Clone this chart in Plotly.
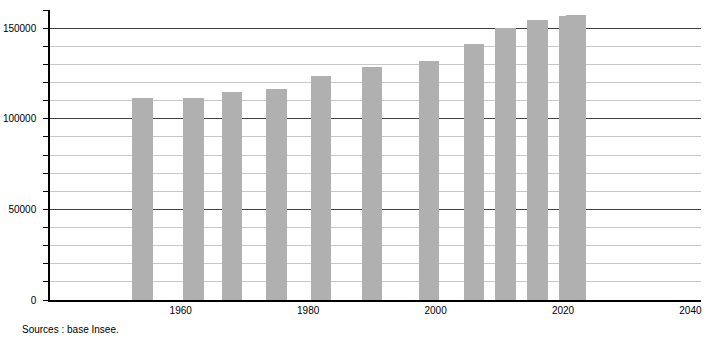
import plotly.graph_objects as go

years = [1954, 1962, 1968, 1975, 1982, 1990, 1999, 2006, 2011, 2016, 2021, 2022]
population = [111300, 111300, 114600, 116300, 123500, 128500, 131800, 141300, 150200, 154600, 156700, 157400]
x_ticks = [1960, 1980, 2000, 2020, 2040]
y_ticks = [0, 50000, 100000, 150000]
source_text = "Sources : base Insee."

fig = go.Figure()
fig.add_trace(go.Bar(
    x=years, y=population, width=3.2,
    marker=dict(color="#b0b0b0", line=dict(width=0)),
    hoverinfo="x+y",
))

fig.update_layout(
    width=710, height=340,
    margin=dict(l=50, r=9, t=10, b=40, autoexpand=False),
    paper_bgcolor="white", plot_bgcolor="white",
    showlegend=False,
    font=dict(family="Liberation Sans, Arial, sans-serif", size=10, color="#000"),
    bargap=0,
    xaxis=dict(
        range=[1939.48, 2041.66],
        tickvals=x_ticks, ticktext=[str(v) for v in x_ticks],
        showgrid=False, zeroline=False, automargin=False,
        showline=True, linecolor="#000", linewidth=1.5,
        ticks="", tickfont=dict(size=10),
    ),
    yaxis=dict(
        range=[0, 160000],
        tickvals=y_ticks, ticktext=[str(v) for v in y_ticks],
        showgrid=True, gridcolor="#404040", gridwidth=1,
        zeroline=False, automargin=False,
        showline=True, linecolor="#000", linewidth=1.5,
        ticks="outside", ticklen=5, tickcolor="#000",
        ticklabelstandoff=5,
        minor=dict(dtick=10000, showgrid=True, gridcolor="#c8c8c8", gridwidth=1,
                   ticks="outside", ticklen=5, tickcolor="#000"),
        tickfont=dict(size=10),
    ),
)

fig.add_annotation(
    text=source_text, xref="paper", yref="paper",
    x=-0.046, y=-0.1, xanchor="left", yanchor="middle",
    showarrow=False, font=dict(size=10, color="#000"),
)

fig.write_html("out.html")
